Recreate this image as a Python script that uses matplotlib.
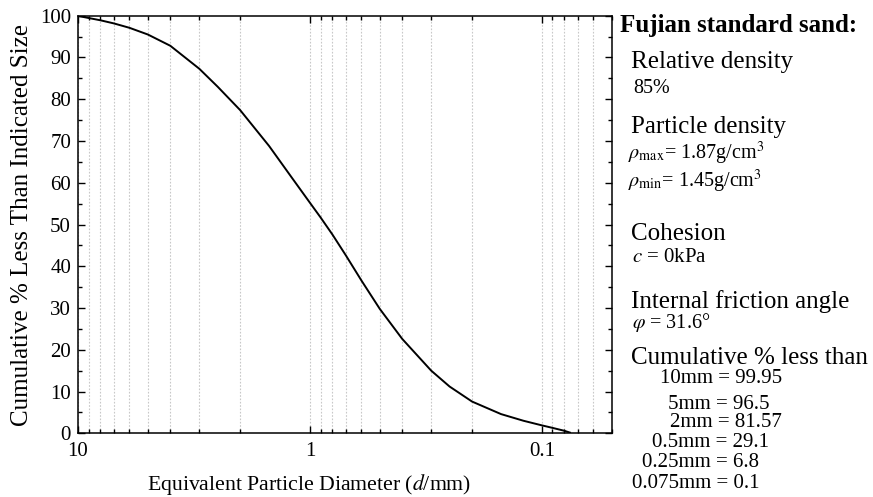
import matplotlib
matplotlib.use("Agg")
import matplotlib.pyplot as plt
from matplotlib.ticker import LogLocator, NullFormatter, FixedLocator, FixedFormatter, MultipleLocator

# Grain-size distribution curve (particle diameter in mm, cumulative % passing)
diameter_mm = [10, 9, 8, 7, 6, 5, 4, 3, 2.5, 2, 1.5, 1.2, 1, 0.9, 0.8, 0.7,
               0.6, 0.5, 0.4, 0.3, 0.25, 0.2, 0.15, 0.12, 0.1, 0.09, 0.08, 0.075]
percent_finer = [99.95, 99.45, 98.9, 98.15, 97.1, 95.5, 92.8, 87.3, 83.0, 77.4, 68.8,
                 61.3, 55.2, 51.7, 47.6, 42.6, 36.6, 29.8, 22.6, 15.0, 11.2, 7.6,
                 4.6, 3.0, 1.9, 1.3, 0.6, 0.1]

x_ticks = [10, 1, 0.1]
x_tick_labels = ["10", "1", "0.1"]
y_ticks = list(range(0, 101, 10))

# Material properties listed beside the plot
title_text = "Fujian standard sand:"
sieve_labels = ["10mm = 99.95", "5mm = 96.5", "2mm = 81.57",
                "0.5mm = 29.1", "0.25mm = 6.8", "0.075mm = 0.1"]

plt.rcParams["font.family"] = ["Liberation Serif", "DejaVu Serif"]
plt.rcParams["mathtext.fontset"] = "stix"

W, H = 873, 497
fig = plt.figure(figsize=(W / 100, H / 100), dpi=100)
ax = fig.add_axes([78 / W, 1 - 433.3 / H, (611.7 - 78) / W, (433.3 - 15.7) / H])

ax.plot(diameter_mm, percent_finer, color="black", lw=1.4,
        solid_joinstyle="round", solid_capstyle="butt")

ax.set_xscale("log")
ax.set_xlim(10, 0.05)
ax.set_ylim(0, 100)

ax.xaxis.set_major_locator(FixedLocator(x_ticks))
ax.xaxis.set_major_formatter(FixedFormatter(x_tick_labels))
ax.xaxis.set_minor_locator(LogLocator(base=10, subs=range(2, 10), numticks=20))
ax.xaxis.set_minor_formatter(NullFormatter())
ax.yaxis.set_major_locator(FixedLocator(y_ticks))
ax.yaxis.set_minor_locator(MultipleLocator(5))

ax.grid(True, which="both", axis="x", color="#c8c8c8", ls=(0, (1.5, 1.5)), lw=0.8)
ax.set_axisbelow(True)

for s in ax.spines.values():
    s.set_linewidth(1.1)

ax.tick_params(which="both", direction="in", top=True, right=True, width=1.0,
               labelsize=15)
ax.tick_params(which="major", length=5)
ax.tick_params(which="minor", length=3)
ax.tick_params(axis="x", which="major", pad=6)
ax.tick_params(axis="y", which="major", pad=5)

ax.set_xlabel("Equivalent Particle Diameter ($d$/mm)", fontsize=15.7)
ax.xaxis.set_label_coords(0.433, -0.093)
ax.set_ylabel("Cumulative % Less Than Indicated Size", fontsize=18)
ax.yaxis.set_label_coords(-0.084, 0.499)


def ftext(x, y, s, **kw):
    # place text by its left edge and baseline, in pixel coordinates
    fig.text(x / W, 1 - y / H, s, va="baseline", ha="left", **kw)


ftext(620, 32, title_text, fontsize=18, fontweight="bold")
ftext(631, 68, "Relative density", fontsize=18)
ftext(633, 93, "85%", fontsize=14.5)
ftext(631, 133, "Particle density", fontsize=18)
ftext(628, 159, r"$\rho_{\mathrm{max}}$= 1.87g/cm$^{3}$", fontsize=14.5)
ftext(628, 187, r"$\rho_{\mathrm{min}}$= 1.45g/cm$^{3}$", fontsize=14.5)
ftext(631, 240, "Cohesion", fontsize=18)
ftext(632, 262, r"$c$ = 0kPa", fontsize=15)
ftext(631, 308, "Internal friction angle", fontsize=18)
ftext(632, 328, r"$\varphi$ = 31.6°", fontsize=14.5)
ftext(631, 364, "Cumulative % less than", fontsize=18)

sieve_x = [660, 668, 670, 652, 642, 632]
sieve_y = [383, 409, 427, 447, 467, 488]
for sx, sy, lab in zip(sieve_x, sieve_y, sieve_labels):
    ftext(sx, sy, lab, fontsize=15)

fig.savefig("out.png", dpi=100)
